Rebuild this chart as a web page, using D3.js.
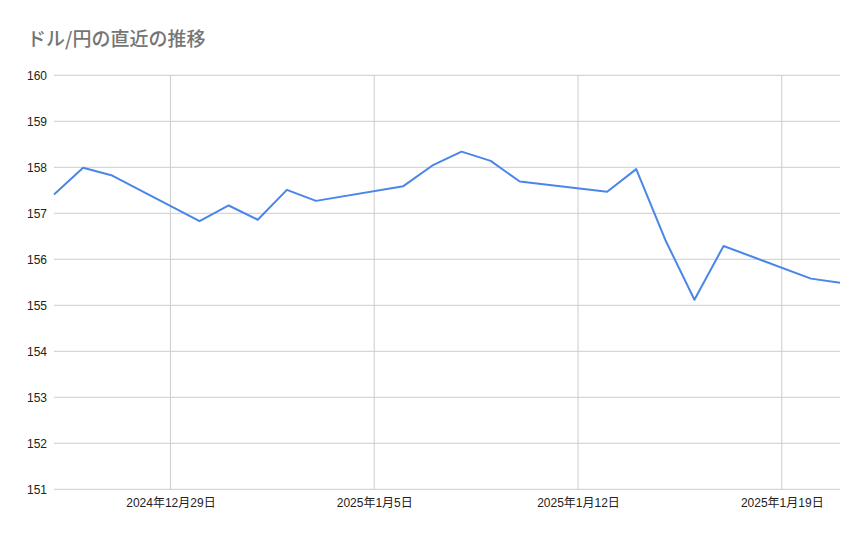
<!DOCTYPE html>
<html>
<head>
<meta charset="utf-8">
<script src="https://cdn.jsdelivr.net/npm/d3@7"></script>
<style>
  body { margin: 0; background: #fff; }
  svg { display: block; }
</style>
</head>
<body>
<div id="chart"></div>
<script>
// data
const dates = ['2024-12-25', '2024-12-26', '2024-12-27', '2024-12-30', '2024-12-31',
  '2025-01-01', '2025-01-02', '2025-01-03', '2025-01-06', '2025-01-07',
  '2025-01-08', '2025-01-09', '2025-01-10', '2025-01-13', '2025-01-14',
  '2025-01-15', '2025-01-16', '2025-01-17', '2025-01-20', '2025-01-21'];
const rates = [157.41, 157.99, 157.82, 156.83, 157.17,
  156.86, 157.51, 157.27, 157.59, 158.04,
  158.34, 158.14, 157.69, 157.47, 157.96,
  156.42, 155.12, 156.29, 155.58, 155.49];
const yTicks = [151, 152, 153, 154, 155, 156, 157, 158, 159, 160];
const xTicks = ['2024-12-29', '2025-01-05', '2025-01-12', '2025-01-19'];
const xDomain = ['2024-12-25', '2025-01-21'];

const width = 867;
const height = 537;
const plotLeft = 54, plotRight = 840, plotTop = 75.3, plotBottom = 489.3;

const parse = s => { const p = s.split('-').map(Number); return new Date(p[0], p[1] - 1, p[2]); };
const data = dates.map((d, i) => ({date: parse(d), value: rates[i]}));

const x = d3.scaleTime().domain(xDomain.map(parse)).range([plotLeft, plotRight]);
const y = d3.scaleLinear().domain([151, 160]).range([plotBottom, plotTop]);

const svg = d3.select('#chart').append('svg')
  .attr('width', width).attr('height', height);

svg.append('text')
  .attr('x', 27).attr('y', 46)
  .attr('font-family', '"Noto Sans CJK JP", sans-serif')
  .attr('font-size', '19px')
  .attr('font-weight', 500)
  .attr('fill', '#757575')
  .text('ドル/円の直近の推移');

// horizontal grid
svg.append('g')
  .selectAll('line')
  .data(yTicks)
  .join('line')
  .attr('x1', plotLeft).attr('x2', plotRight)
  .attr('y1', d => y(d)).attr('y2', d => y(d))
  .attr('stroke', '#cccccc').attr('stroke-width', 1);

// vertical grid
svg.append('g')
  .selectAll('line')
  .data(xTicks.map(parse))
  .join('line')
  .attr('x1', d => x(d)).attr('x2', d => x(d))
  .attr('y1', plotTop).attr('y2', plotBottom)
  .attr('stroke', '#cccccc').attr('stroke-width', 1);

const yAxis = d3.axisLeft(y).tickValues(yTicks).tickSize(0).tickPadding(7).tickFormat(d3.format('d'));
svg.append('g')
  .attr('transform', `translate(${plotLeft},0)`)
  .call(yAxis)
  .call(g => g.select('.domain').remove())
  .call(g => g.selectAll('text')
    .attr('font-family', '"Liberation Sans", Arial, sans-serif')
    .attr('font-size', '12px')
    .attr('fill', '#222'));

const fmt = d => `${d.getFullYear()}年${d.getMonth() + 1}月${d.getDate()}日`;
const xAxis = d3.axisBottom(x).tickValues(xTicks.map(parse)).tickSize(0).tickPadding(9).tickFormat(fmt);
svg.append('g')
  .attr('transform', `translate(0,${plotBottom})`)
  .call(xAxis)
  .call(g => g.select('.domain').remove())
  .call(g => g.selectAll('text')
    .attr('font-family', '"Liberation Sans", "Noto Sans CJK JP", sans-serif')
    .attr('font-size', '12px')
    .attr('fill', '#222'));

const line = d3.line()
  .x(d => x(d.date))
  .y(d => y(d.value));

svg.append('path')
  .datum(data)
  .attr('fill', 'none')
  .attr('stroke', '#4a86e8')
  .attr('stroke-width', 2)
  .attr('stroke-linejoin', 'round')
  .attr('d', line);
</script>
</body>
</html>
